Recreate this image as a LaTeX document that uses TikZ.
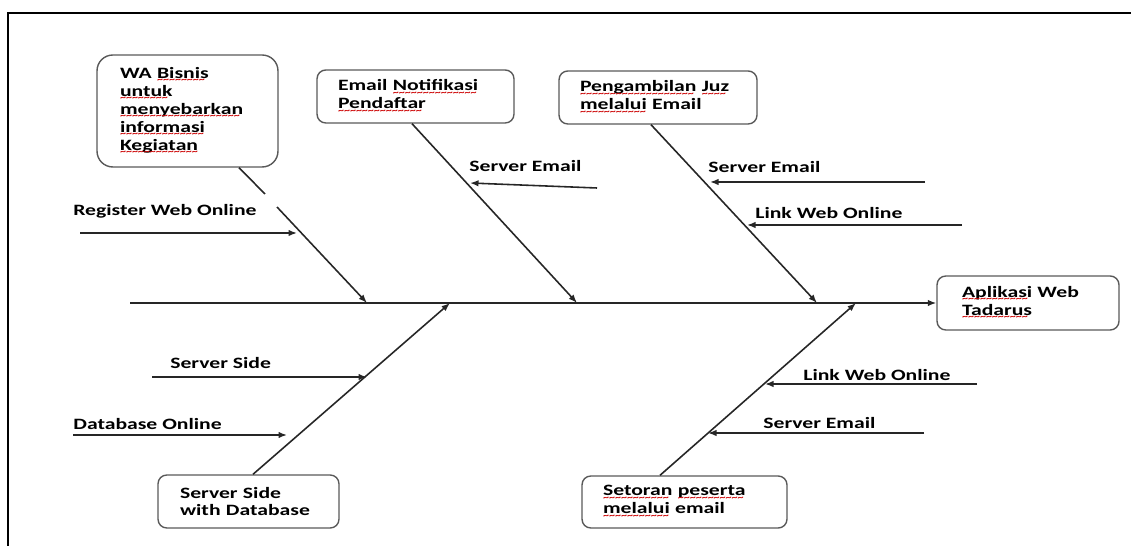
\documentclass[tikz,border=0pt]{standalone}
\usepackage{fontspec}
\setmainfont{Carlito}[FakeStretch=1.37]
\usetikzlibrary{arrows.meta}
\newsavebox\spellbox
\newcommand\spell[1]{\leavevmode\sbox\spellbox{#1}\rlap{\usebox\spellbox}%
  \raisebox{-2.6pt}{\textcolor{red!80!black}{\fontsize{5}{5}\selectfont\leaders\hbox{\char`\~}\hskip\wd\spellbox}}}
\tikzset{
  box/.style={draw=black!65, line width=0.8pt, rounded corners=5pt, align=left, inner ysep=0pt},
  lbl/.style={anchor=west, inner sep=0pt},
  bone/.style={draw=black!85, line width=0.9pt},
  tip/.style={-{Latex[length=1.7mm,width=1.3mm]}},
}
\begin{document}
\begin{tikzpicture}[x=0.02cm, y=-0.02cm, font=\fontsize{9}{10.2}\selectfont\bfseries]
  \useasboundingbox (0,0) rectangle (1131,546);
  \draw[line width=1pt] (1131,13) -- (8,13) -- (8,546);

  \node[box, rounded corners=9pt, text width=2.70cm, inner xsep=0.46cm, minimum height=2.24cm] (wa) at (187.5,111)
    {WA \spell{Bisnis}\\ \spell{untuk}\\ \spell{menyebarkan}\\ \spell{informasi}\\ \spell{Kegiatan}};
  \node[box, text width=3.10cm, inner xsep=0.42cm, minimum height=1.06cm] (email) at (415.5,96.5)
    {Email \spell{Notifikasi}\\ \spell{Pendaftar}};
  \node[box, text width=3.12cm, inner xsep=0.42cm, minimum height=1.06cm] (juz) at (658,97.5)
    {\spell{Pengambilan} \spell{Juz}\\ \spell{melalui} Email};
  \node[box, text width=2.64cm, inner xsep=0.50cm, minimum height=1.08cm] (app) at (1028,303)
    {\spell{Aplikasi} Web\\ \spell{Tadarus}};
  \node[box, text width=2.74cm, inner xsep=0.44cm, minimum height=1.06cm] (db) at (248.5,501.5)
    {Server Side\\ with Database};
  \node[box, text width=3.26cm, inner xsep=0.42cm, minimum height=1.04cm] (setor) at (684.5,502)
    {\spell{Setoran} \spell{peserta}\\ \spell{melalui} email};

  \coordinate (tail) at (130,303);
  \coordinate (s1) at (367,303);
  \coordinate (s2) at (577,303);
  \coordinate (s3) at (817,303);
  \coordinate (s4) at (450,303);
  \coordinate (s5) at (856,303);
  \coordinate (g1) at (265,194);
  \coordinate (g2) at (277,207);

  \draw[bone, tip] (tail) -- (app.west);
  \draw[bone] ([xshift=1.03cm]wa.south) -- (g1);
  \draw[bone, tip] (g2) -- (s1);
  \draw[bone, tip] ([xshift=-0.07cm]email.south) -- (s2);
  \draw[bone, tip] ([xshift=-0.14cm]juz.south) -- (s3);
  \draw[bone, tip] ([xshift=0.09cm]db.north) -- (s4);
  \draw[bone, tip] ([xshift=-0.49cm]setor.north) -- (s5);

  \node[lbl] (c1) at (73,211) {Register Web Online};
  \node[lbl] (c2) at (469,166) {Server Email};
  \node[lbl] (c3) at (708,167) {Server Email};
  \node[lbl] (c4) at (755,213) {Link Web Online};
  \node[lbl] (c5) at (170,363) {Server Side};
  \node[lbl] (c6) at (73,424) {Database Online};
  \node[lbl] (c7) at (803,375) {Link Web Online};
  \node[lbl] (c8) at (763,423) {Server Email};

  \coordinate (c1a) at (80,233);  \coordinate (c1b) at (297,233);
  \coordinate (c2a) at (597,188); \coordinate (c2b) at (470,183);
  \coordinate (c3a) at (925,182); \coordinate (c3b) at (710,182);
  \coordinate (c4a) at (962,225); \coordinate (c4b) at (747,225);
  \coordinate (c5a) at (152,377); \coordinate (c5b) at (367,377);
  \coordinate (c6a) at (73,435);  \coordinate (c6b) at (287,435);
  \coordinate (c7a) at (977,384); \coordinate (c7b) at (765,384);
  \coordinate (c8a) at (924,433); \coordinate (c8b) at (708,433);

  \draw[bone, tip] (c1a) -- (c1b);
  \draw[bone, tip] (c2a) -- (c2b);
  \draw[bone, tip] (c3a) -- (c3b);
  \draw[bone, tip] (c4a) -- (c4b);
  \draw[bone, tip] (c5a) -- (c5b);
  \draw[bone, tip] (c6a) -- (c6b);
  \draw[bone, tip] (c7a) -- (c7b);
  \draw[bone, tip] (c8a) -- (c8b);
\end{tikzpicture}
\end{document}
